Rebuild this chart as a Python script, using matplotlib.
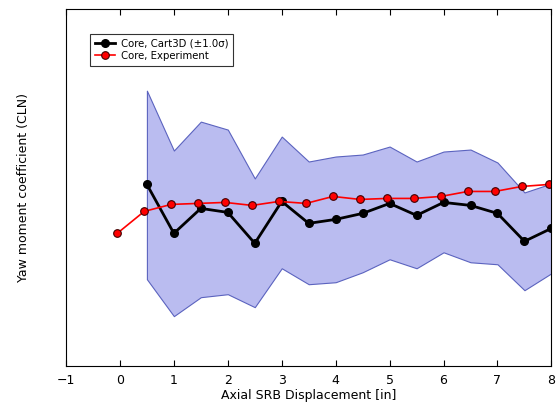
import numpy as np
import matplotlib
matplotlib.use("Agg")
import matplotlib.pyplot as plt

# Axial displacement positions
x_cart = [0.5, 1.0, 1.5, 2.0, 2.5, 3.0, 3.5, 4.0, 4.5, 5.0, 5.5, 6.0, 6.5, 7.0, 7.5, 8.0]
x_exp = [-0.05, 0.45, 0.95, 1.45, 1.95, 2.45, 2.95, 3.45, 3.95, 4.45, 4.95,
         5.45, 5.95, 6.45, 6.95, 7.45, 7.95]

# Yaw moment coefficient (arbitrary scale, no tick labels in original)
cln_cart = [0.3, -4.6, -2.1, -2.5, -5.6, -1.4, -3.6, -3.2, -2.6, -1.6, -2.8, -1.5, -1.8, -2.6, -5.4, -4.1]
cln_upper = [9.7, 3.7, 6.6, 5.8, 0.9, 5.1, 2.6, 3.1, 3.3, 4.1, 2.6, 3.6, 3.8, 2.5, -0.5, 0.4]
cln_lower = [-9.2, -12.9, -11.0, -10.7, -12.0, -8.1, -9.7, -9.5, -8.5, -7.2, -8.1, -6.5, -7.5, -7.7, -10.3, -8.6]
cln_exp = [-4.6, -2.4, -1.7, -1.6, -1.5, -1.8, -1.4, -1.6, -0.9, -1.2, -1.1, -1.1, -0.9, -0.4, -0.4, 0.1, 0.3]

fig = plt.figure(figsize=(5.57, 4.04), dpi=100)
ax = fig.add_axes([0.1185, 0.094, 0.8715, 0.884])

ax.fill_between(x_cart, cln_lower, cln_upper, facecolor='#babcf0', edgecolor='#5b63bf', linewidth=0.8)
ax.plot(x_cart, cln_cart, color='black', linewidth=2, marker='o', markersize=5.5,
        markerfacecolor='black', markeredgecolor='black', label='Core, Cart3D (\u00b11.0\u03c3)')
ax.plot(x_exp, cln_exp, color='red', linewidth=1.2, marker='o', markersize=5.5,
        markerfacecolor='red', markeredgecolor='#400000', markeredgewidth=0.8, label='Core, Experiment')

ax.set_xlim(-1, 8)
ax.set_ylim(-17.9, 17.9)
ax.set_xticks(np.arange(-1, 9, 1))
ax.set_xticklabels(['\u22121'] + [str(i) for i in range(0, 9)])
ax.set_yticks([])
ax.tick_params(axis='x', direction='in', top=True, bottom=True, length=4, labelsize=9, pad=6)

ax.set_xlabel('Axial SRB Displacement [in]', fontsize=9, labelpad=1)
ax.set_ylabel('Yaw moment coefficient (CLN)', fontsize=9, labelpad=26)

leg = ax.legend(loc='upper left', bbox_to_anchor=(0.05, 0.93), fontsize=7.3, frameon=True,
                fancybox=False, borderpad=0.45, labelspacing=0.25, handlelength=2.0,
                handletextpad=0.6, borderaxespad=0)
leg.get_frame().set_edgecolor('black')
leg.get_frame().set_linewidth(0.8)

fig.savefig('out.png', dpi=100)
